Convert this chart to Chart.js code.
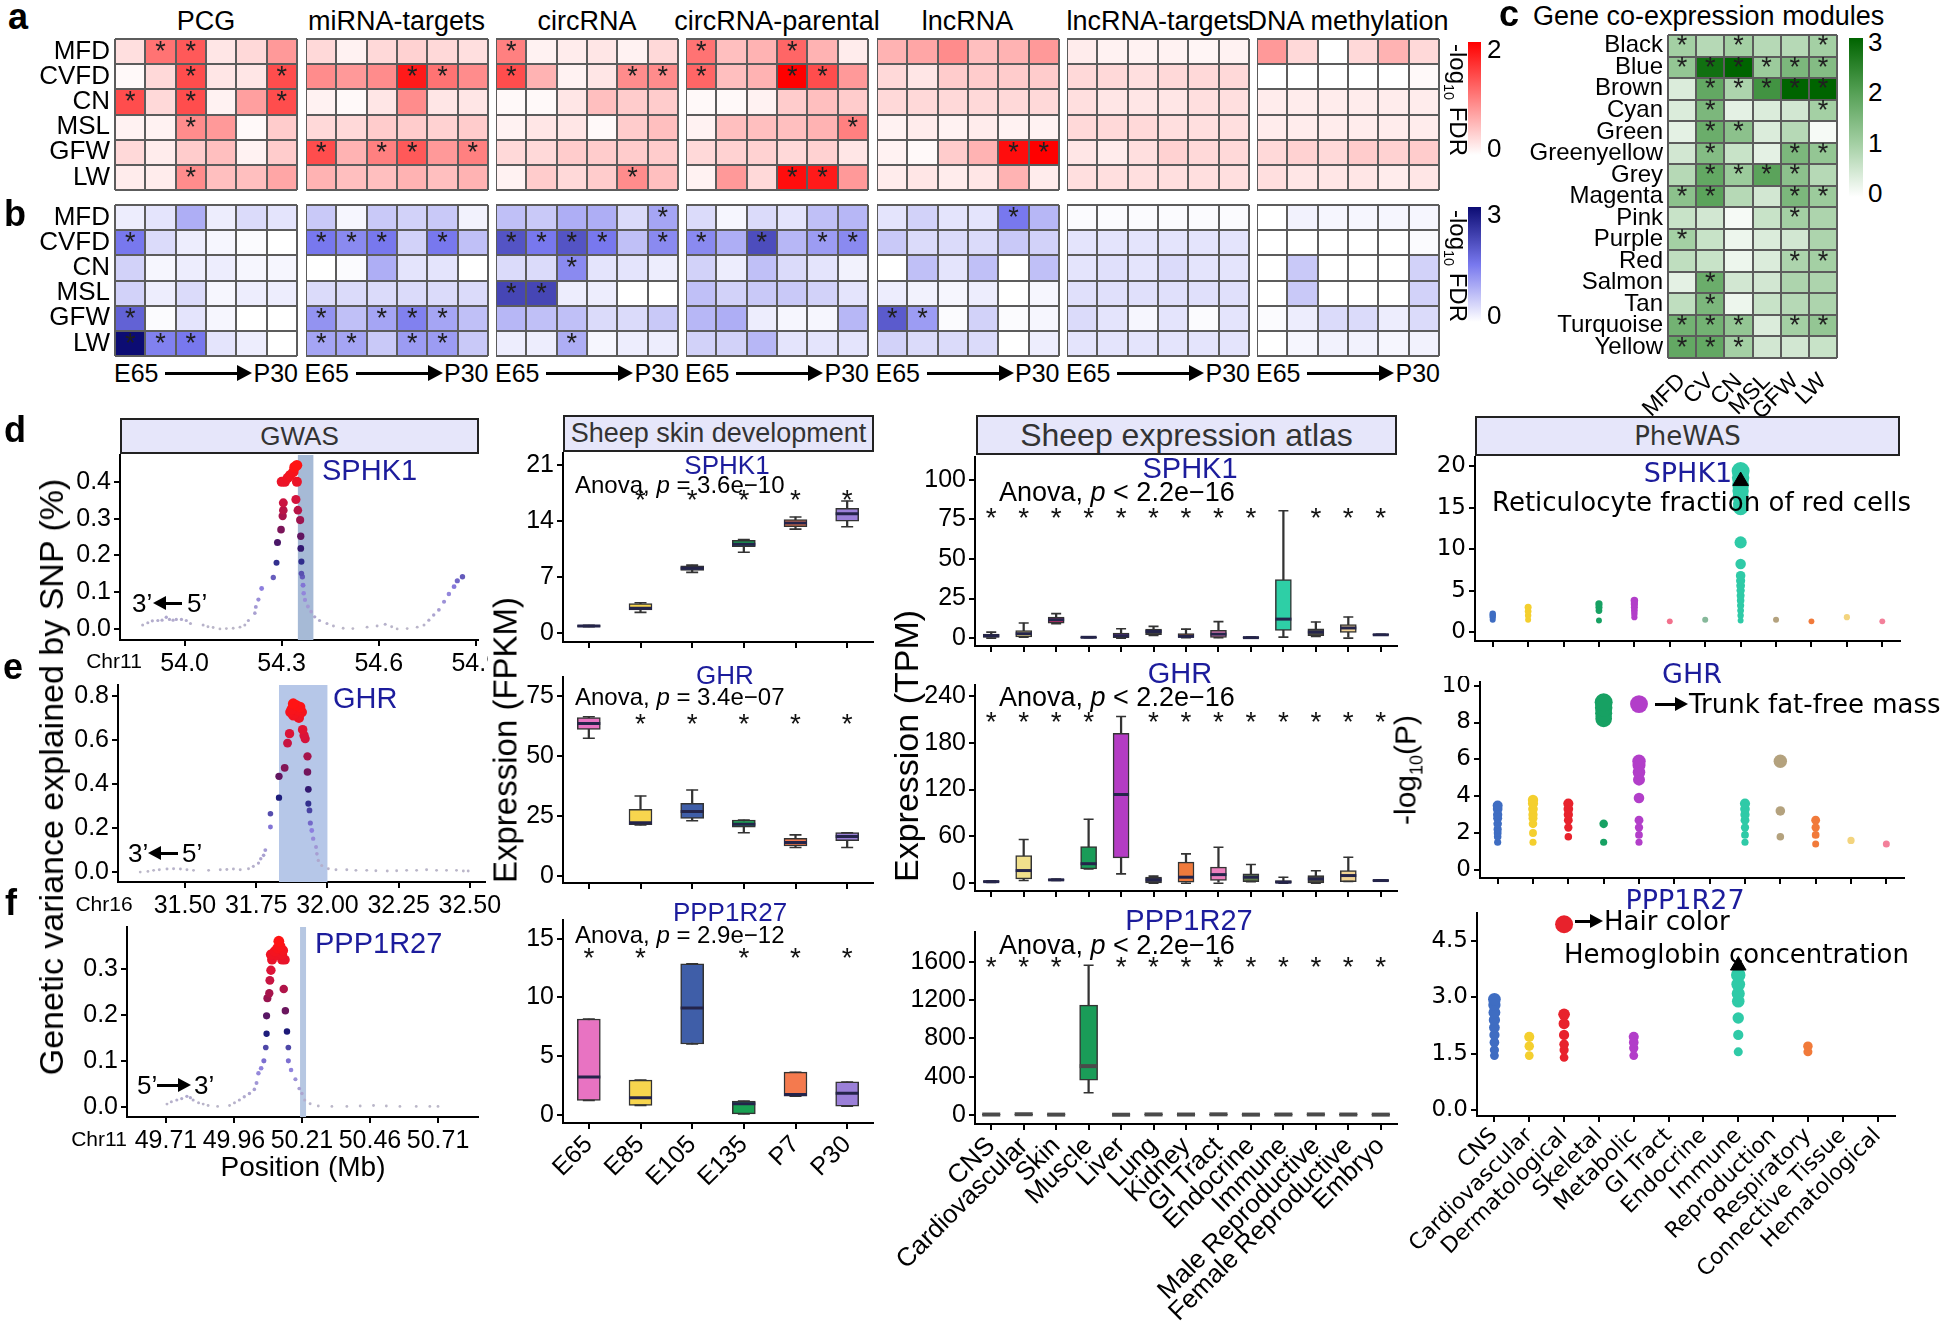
<!DOCTYPE html>
<html>
<head>
<meta charset="utf-8">
<title>Wool trait multi-omics figure</title>
<script src="https://cdn.jsdelivr.net/npm/chart.js@4.4.1/dist/chart.umd.min.js"></script>
<style>
  html, body { margin: 0; padding: 0; background: #fff; }
  body { position: relative; width: 1946px; height: 1334px; overflow: hidden; font-family: "Liberation Sans", Arial, sans-serif; }
  canvas { position: absolute; }
  .hdr { position: absolute; box-sizing: border-box; background: #e6e6fa; border: 2px solid #222; color: #333;
         display: flex; align-items: center; justify-content: center; white-space: nowrap; line-height: 1; }
</style>
</head>
<body>
<script>
// ---------- data : heatmaps a / b ----------
const heatRows = ["MFD", "CVFD", "CN", "MSL", "GFW", "LW"];
const omicsLayers = ["PCG", "miRNA-targets", "circRNA", "circRNA-parental", "lncRNA", "lncRNA-targets", "DNA methylation"];

// -log10 FDR, up-regulated (red)
const upPCG = [[0.25,1.1,1.3,0.2,0.3,0.8],[0.05,0.3,1.4,0.2,0.2,1.4],[1.4,0.3,1.4,0.1,0.75,1.4],[0.1,0.1,0.9,0.8,0.05,0.4],[0.3,0.15,0.4,0.5,0.1,0.4],[0.15,0.15,0.9,0.5,0.5,0.7]];
const upMiRNA = [[0.3,0.1,0.3,0.35,0.3,0.25],[0.9,0.8,0.9,1.8,1.1,0.9],[0.1,0.05,0.2,0.9,0.2,0.2],[0.3,0.3,0.4,0.4,0.35,0.4],[1.4,0.6,1.0,1.3,0.8,1.0],[0.6,0.5,0.5,0.6,0.5,0.6]];
const upCirc = [[1.0,0.1,0.15,0.2,0.1,0.3],[1.4,0.6,0.1,0.2,0.9,0.9],[0.05,0.05,0.2,0.5,0.4,0.4],[0.1,0.2,0.2,0.05,0.4,0.5],[0.3,0.3,0.4,0.4,0.4,0.4],[0.1,0.4,0.3,0.4,0.9,0.5]];
const upCircPar = [[1.1,0.5,0.6,1.2,0.6,0.15],[1.2,0.5,0.6,2.0,1.4,0.8],[0.05,0.05,0.1,0.4,0.5,0.4],[0.1,0.5,0.5,0.5,0.6,1.0],[0.3,0.35,0.35,0.3,0.35,0.2],[0.1,0.8,0.3,1.9,1.8,0.8]];
const upLnc = [[0.6,0.7,0.9,0.5,0.6,0.8],[0.3,0.2,0.4,0.4,0.4,0.4],[0.3,0.3,0.3,0.3,0.3,0.3],[0.1,0.15,0.1,0.15,0.1,0.1],[0.1,0.05,0.4,0.6,1.9,2.0],[0.15,0.2,0.15,0.2,0.6,0.15]];
const upLncTgt = [[0.15,0.1,0.1,0.1,0.08,0.1],[0.3,0.3,0.25,0.3,0.3,0.3],[0.25,0.2,0.2,0.2,0.25,0.25],[0.3,0.3,0.3,0.25,0.25,0.25],[0.2,0.15,0.25,0.35,0.3,0.3],[0.25,0.25,0.25,0.25,0.25,0.25]];
const upMeth = [[0.8,0.3,0.0,0.3,0.6,0.3],[0,0,0,0,0,0.05],[0.15,0.15,0.15,0.15,0.15,0.15],[0.15,0.15,0.15,0.15,0.15,0.15],[0.3,0.35,0.3,0.4,0.35,0.4],[0.25,0.2,0.2,0.2,0.15,0.2]];
const upSig = [
  ["011000","001001","101001","001000","000000","001000"],
  ["000000","000110","000000","000000","101101","000000"],
  ["100000","100011","000000","000000","000000","000010"],
  ["100100","100110","000000","000001","000000","000110"],
  ["000000","000000","000000","000000","000011","000000"],
  ["000000","000000","000000","000000","000000","000000"],
  ["000000","000000","000000","000000","000000","000000"]];

// -log10 FDR, down-regulated (blue)
const downPCG = [[0.2,0.3,0.9,0.2,0.4,0.3],[1.5,0.4,0.2,0.1,0.05,0.0],[0.5,0.1,0.2,0.2,0.1,0.1],[0.5,0.2,0.4,0.1,0.2,0.2],[1.8,0.05,0.3,0.1,0.0,0.0],[3.0,1.4,1.5,0.3,0.2,0.0]];
const downMiRNA = [[0.6,0.1,0.6,0.5,0.6,0.15],[1.5,1.3,1.5,0.5,1.5,0.7],[0.0,0.05,0.9,0.3,0.3,0.0],[0.4,0.4,0.4,0.4,0.4,0.4],[1.2,0.7,1.0,1.4,1.0,0.7],[1.0,1.0,0.6,1.1,1.1,0.6]];
const downCirc = [[0.7,0.6,0.9,0.9,0.4,1.0],[2.0,1.5,2.0,1.5,0.7,1.3],[0.4,0.4,1.3,0.3,0.3,0.2],[2.2,2.2,0.2,0.2,0.0,0.0],[0.8,0.7,0.7,0.4,0.4,0.6],[0.2,0.2,0.9,0.1,0.2,0.2]];
const downCircPar = [[0.4,0.1,0.4,0.3,0.7,0.8],[1.3,0.9,2.1,0.8,1.1,1.3],[0.5,0.2,0.7,0.4,0.3,0.15],[0.7,0.5,0.6,0.6,0.5,0.3],[0.8,0.9,0.2,0.1,0.1,0.8],[0.5,0.5,0.8,0.3,0.3,0.3]];
const downLnc = [[0.3,0.5,0.3,0.3,1.5,0.8],[0.6,0.4,0.4,0.4,0.6,0.5],[0.0,0.7,0.3,0.7,0.0,0.7],[0.2,0.15,0.1,0.2,0.0,0.1],[1.9,1.1,0.05,0.5,0.05,0.1],[0.5,0.4,0.4,0.4,0.0,0.2]];
const downLncTgt = [[0.05,0.05,0.05,0.05,0.05,0.05],[0.3,0.3,0.3,0.3,0.3,0.3],[0.3,0.35,0.3,0.4,0.3,0.3],[0.35,0.35,0.35,0.35,0.35,0.35],[0.4,0.3,0.1,0.3,0.05,0.3],[0.3,0.3,0.3,0.3,0.3,0.3]];
const downMeth = [[0.0,0.15,0.1,0.1,0.1,0.1],[0,0,0,0,0,0.05],[0.0,0.6,0.0,0.0,0.0,0.5],[0.0,0.6,0.0,0.0,0.0,0.5],[0.05,0.2,0.4,0.4,0.2,0.4],[0.0,0.1,0.15,0.15,0.1,0.15]];
const downSig = [
  ["000000","100000","000000","000000","100000","111000"],
  ["000000","111010","000000","000000","101110","110110"],
  ["000001","111101","001000","110000","000000","001000"],
  ["000000","101011","000000","000000","000000","000000"],
  ["000010","000000","000000","000000","110000","000000"],
  ["000000","000000","000000","000000","000000","000000"],
  ["000000","000000","000000","000000","000000","000000"]];

// ---------- data : c, co-expression modules ----------
const modRows = ["Black","Blue","Brown","Cyan","Green","Greenyellow","Grey","Magenta","Pink","Purple","Red","Salmon","Tan","Turquoise","Yellow"];
const modTraits = ["MFD","CV","CN","MSL","GFW","LW"];
const modCor = [[1.0,0.8,1.0,0.8,0.8,1.0],[1.2,2.8,3.0,1.1,1.5,1.4],[0.4,1.8,0.9,2.2,3.0,3.0],[0.4,1.5,0.3,0.4,0.5,1.0],[0.3,1.7,1.3,0.4,0.8,0.1],
  [0.5,1.4,0.6,0.3,1.5,1.2],[0.8,1.8,1.1,1.9,1.3,0.8],[1.3,1.9,0.8,0.5,1.5,1.1],[0.6,0.5,0.1,0.6,1.0,0.9],[1.0,0.6,0.2,0.4,0.5,0.9],
  [0.7,0.6,0.2,0.4,0.9,1.0],[0.3,1.7,0.5,0.5,0.9,0.9],[0.7,1.5,0.2,0.6,0.8,0.9],[1.6,1.6,1.2,0.4,1.0,1.2],[1.8,1.8,1.0,0.5,0.5,0.6]];
const modSig = ["101001","111111","011111","010001","011000","010011","011110","110011","000010","100000","000011","010000","010000","111011","111000"];

// ---------- data : GWAS (position Mb, variance explained %) ----------
const posSPHK1 = [53.87,53.886,53.90,53.917,53.93,53.943,53.953,53.964,53.974,53.99,54.005,54.018,54.057,54.072,54.088,54.109,54.129,54.15,54.171,54.186,54.197,54.217,54.22,54.228,54.238,54.274,54.284,54.287,54.298,54.303,54.305,54.305,54.30,54.31,54.318,54.326,54.336,54.34,54.347,54.347,54.344,54.35,54.357,54.359,54.359,54.361,54.361,54.364,54.366,54.368,54.372,54.381,54.391,54.402,54.417,54.44,54.46,54.49,54.52,54.564,54.595,54.62,54.64,54.657,54.688,54.719,54.74,54.755,54.77,54.786,54.802,54.817,54.833,54.843,54.859];
const pveSPHK1 = [0.011,0.017,0.022,0.023,0.024,0.032,0.026,0.024,0.026,0.026,0.023,0.015,0.011,0.006,0.004,0.0,0.001,0.002,0.005,0.011,0.023,0.043,0.06,0.08,0.11,0.14,0.18,0.235,0.27,0.307,0.323,0.343,0.40,0.40,0.41,0.418,0.427,0.44,0.445,0.40,0.352,0.323,0.296,0.252,0.219,0.183,0.151,0.142,0.119,0.097,0.079,0.061,0.047,0.033,0.023,0.015,0.008,0.002,0.001,0.005,0.008,0.013,0.006,0.0,0.001,0.005,0.011,0.024,0.038,0.052,0.074,0.095,0.115,0.131,0.142];
const posGHR = [31.343,31.37,31.39,31.41,31.437,31.46,31.484,31.507,31.53,31.583,31.624,31.647,31.67,31.694,31.723,31.74,31.758,31.766,31.776,31.782,31.80,31.80,31.83,31.83,31.85,31.86,31.867,31.87,31.88,31.89,31.904,31.91,31.898,31.88,31.913,31.918,31.922,31.93,31.93,31.933,31.933,31.937,31.94,31.945,31.95,31.96,31.963,31.968,31.98,32.003,32.03,32.068,32.10,32.138,32.17,32.21,32.243,32.278,32.313,32.348,32.383,32.418,32.453,32.477,32.494,31.875,31.885,31.895,31.90];
const pveGHR = [0,0.003,0.008,0.011,0.014,0.015,0.014,0.011,0.008,0.008,0.011,0.012,0.014,0.011,0.015,0.026,0.041,0.061,0.076,0.10,0.205,0.265,0.338,0.435,0.474,0.586,0.629,0.727,0.765,0.758,0.75,0.727,0.705,0.712,0.647,0.621,0.606,0.526,0.455,0.376,0.311,0.28,0.223,0.189,0.152,0.114,0.083,0.053,0.03,0.015,0.011,0.011,0.008,0.008,0.006,0.005,0.006,0.008,0.008,0.011,0.008,0.008,0.008,0.005,0.005,0.74,0.72,0.735,0.70];
const posPPP1R27 = [49.714,49.73,49.75,49.768,49.787,49.80,49.81,49.83,49.847,49.865,49.90,49.944,49.962,49.98,49.998,50.017,50.035,50.043,50.05,50.06,50.07,50.077,50.08,50.08,50.083,50.09,50.092,50.096,50.096,50.11,50.125,50.13,50.137,50.147,50.137,50.143,50.149,50.155,50.16,50.16,50.17,50.186,50.20,50.21,50.22,50.24,50.27,50.32,50.375,50.424,50.473,50.52,50.57,50.63,50.68,50.71,50.115,50.12,50.14,50.10];
const pvePPP1R27 = [0.006,0.011,0.015,0.018,0.023,0.02,0.015,0.009,0.006,0.003,0.001,0.003,0.009,0.015,0.022,0.029,0.038,0.052,0.073,0.084,0.10,0.129,0.159,0.198,0.236,0.247,0.275,0.297,0.331,0.338,0.36,0.349,0.331,0.32,0.32,0.256,0.209,0.164,0.129,0.10,0.08,0.06,0.04,0.029,0.015,0.007,0.002,0.001,0.001,0.002,0.003,0.002,0.001,0.001,0.001,0.001,0.33,0.345,0.34,0.32];

// ---------- data : skin development (FPKM box stats) ----------
const skinStages = ["E65","E85","E105","E135","P7","P30"];
const skinSPHK1 = { lo:[0.8,2.6,7.6,10.1,13.0,13.3], q1:[0.85,2.9,7.85,10.8,13.3,14.0], med:[0.9,3.1,8.1,11.1,13.75,14.9], q3:[0.95,3.7,8.4,11.6,14.2,15.6], hi:[1.0,3.8,8.5,11.7,14.5,16.5] };
const skinGHR = { lo:[57.4,21.2,23,18,11.8,11.8], q1:[61.1,21.3,24,20.3,12.5,14.7], med:[63.6,22.2,26.8,21.5,13.9,16.4], q3:[66.1,27.8,30.3,23.3,15.7,18], hi:[66.4,33.3,35.8,23.3,17.1,18] };
const skinPPP1R27 = { lo:[1.22,0.8,6.03,0.08,1.59,0.74], q1:[1.22,0.8,6.03,0.08,1.59,0.74], med:[3.23,1.45,9.1,0.95,1.73,1.84], q3:[8.16,2.95,12.86,1.16,3.63,2.8], hi:[8.16,2.95,12.86,1.16,3.63,2.8] };
const skinStarSPHK1 = [null,17.3,17.3,17.3,17.3,17.3];
const skinStarGHR = [null,65.7,65.7,65.7,65.7,65.7];
const skinStarPPP1R27 = [13.8,13.8,null,13.8,13.8,13.8];
const skinColors = ["#e873c2","#f7d54e","#3f5ea8","#19a052","#f47a4e","#9b80d8"];

// ---------- data : expression atlas (TPM box stats) ----------
const tissues = ["CNS","Cardiovascular","Skin","Muscle","Liver","Lung","Kidney","GI Tract","Endocrine","Immune","Male Reproductive","Female Reproductive","Embryo"];
const atlasSPHK1 = { lo:[0,0.5,9.1,0.2,0,1.7,0.3,0.2,0.1,0.6,1.0,0,1.8], q1:[0.5,0.8,9.5,0.3,0.3,2.1,0.5,0.5,0.2,4.9,1.5,3.6,1.9],
  med:[1.5,2.8,11.6,0.5,1.5,4.2,1.1,2.5,0.3,12,3.8,6.4,2.1], q3:[2.5,4.7,13.3,0.7,3.2,5.7,2.8,4.9,0.5,37,5.9,8.5,2.3], hi:[3.8,9.5,15.5,0.8,5.9,7.4,5.7,10.4,0.6,80.5,10.2,13.3,2.4] };
const atlasGHR = { lo:[1,3.4,3.5,18.4,12,0,0,0,2,0,0,2.1,2.5], q1:[1.2,5.6,3.7,18.4,32.5,0.5,1.3,3.4,2,0.3,0.5,2.1,2.6],
  med:[2,16.2,4.3,25,113.7,4.3,7.7,11,7.7,1.3,5.5,9.8,3.4], q3:[3,35.5,5,47,192,7.7,27,20.5,12,3.4,9.8,16.2,4.2], hi:[3.2,56,5.2,82,213.7,9,37.6,46,24,7.7,16,33.3,4.4] };
const atlasPPP1R27 = { lo:[2,3,2,233,1,2,2,3,2,2,3,2,1], q1:[3,4,3,365,2,3,3,4,2,3,4,3,2],
  med:[5,8,4,511,3,6,5,7,4,5,6,5,4], q3:[8,11,6,1148,5,9,8,10,6,8,9,8,6], hi:[10,13,7,1565,6,11,10,12,7,10,11,10,7] };
const atlasStarSPHK1 = [79,79,79,79,79,79,79,79,79,null,79,79,79];
const atlasStarGHR = [213,213,213,213,null,213,213,213,213,213,213,213,213];
const atlasStarPPP1R27 = [1600,1600,1600,null,1600,1600,1600,1600,1600,1600,1600,1600,1600];
const tissueColors = ["#444444","#f1e08c","#c8306a","#1a9c58","#b43cc4","#444444","#f07a3c","#ee80bf","#5f7a4a","#2ecfa6","#525243","#f2d494","#444444"];

// ---------- data : PheWAS (-log10 P per trait category) ----------
const pheCats = ["CNS","Cardiovascular","Dermatological","Skeletal","Metabolic","GI Tract","Endocrine","Immune","Reproduction","Respiratory","Connective Tissue","Hematological"];
const pheColors = ["#3f6dc2","#f4cf2e","#e8222c","#17a163","#b23ec9","#f2708c","#86b89a","#2fcaa7","#b4a27e","#f17a3a","#f3d47e","#f3809a"];
const pheSPHK1 = [[1.5,1.8,2.0,2.2],[1.5,2.0,2.5,3.0],[],[1.4,2.6,3.0,3.4],[1.8,2.2,2.6,3.0,3.4,3.8],[1.3],[1.5],
  [1.4,2.0,2.6,3.2,3.8,4.4,5.0,5.6,6.2,6.8,8.2,10.8,15.0,15.5,16.3,17.0,17.8,18.6,19.4],[1.5],[1.3],[1.8],[1.3]];
const pheGHR = [[1.5,1.8,2.0,2.2,2.5,2.8,3.0,3.3,3.5],[1.5,2.0,2.5,2.8,3.0,3.3,3.6,3.8],[1.8,2.3,2.7,3.0,3.3,3.6],[1.5,2.5,8.2,8.5,8.8,9.1],
  [1.5,1.9,2.3,2.7,3.9,4.9,5.3,5.7,5.9,9.0],[],[],[1.5,1.9,2.3,2.7,3.0,3.3,3.6],[1.8,3.2,5.9],[1.4,1.9,2.3,2.7],[1.6],[1.4]];
const phePPP1R27 = [[1.45,1.6,1.8,2.0,2.2,2.4,2.6,2.8,2.95],[1.45,1.7,1.95],[1.4,1.6,1.75,2.0,2.3,2.55,4.95],[],[1.45,1.65,1.8,1.95],[],[],
  [1.55,2.0,2.45,2.9,3.1,3.35,3.6],[],[1.55,1.7],[],[]];
const pheMarkSPHK1 = [18.2];
const pheMarkPPP1R27 = [3.85];

// ---------- helpers ----------
Chart.defaults.font.family = "'Liberation Sans', Arial, sans-serif";
Chart.defaults.color = "#000";
Chart.defaults.animation = false;
Chart.defaults.events = [];
Chart.defaults.plugins.legend.display = false;
Chart.defaults.plugins.tooltip.enabled = false;

// fixed axis sizes so that every plot area lands where the reference has it
const fitY = w => s => { s.width = w; s.paddingTop = 0; s.paddingBottom = 0; };
const fitX = h => s => { s.height = h; s.paddingLeft = 0; s.paddingRight = 0; };

function mkCanvas(left, top, w, h) {
  const c = document.createElement("canvas");
  c.width = w; c.height = h;
  c.style.left = left + "px"; c.style.top = top + "px";
  c.style.width = w + "px"; c.style.height = h + "px";
  document.body.appendChild(c);
  return c;
}

function txt(html, x, y, o = {}) {
  const d = document.createElement("div");
  d.innerHTML = html;
  const ax = o.a === "l" ? "0" : o.a === "r" ? "-100%" : "-50%";
  d.style.cssText = `position:absolute;left:${x}px;top:${y}px;white-space:nowrap;line-height:1;` +
    `font-size:${o.s || 24}px;font-family:${o.f || "'Liberation Sans', Arial, sans-serif"};color:${o.c || "#000"};` +
    `font-weight:${o.b ? "bold" : "normal"};transform:translate(${ax},-50%)${o.rot ? ` rotate(${o.rot}deg)` : ""};z-index:5`;
  document.body.appendChild(d);
}

function arrow(x1, x2, y, head = 13, half = 7) {
  const right = x2 > x1;
  const a = right ? x1 : x2 + head, b = right ? x2 - head : x1;
  const l = document.createElement("div");
  l.style.cssText = `position:absolute;left:${a}px;top:${y - 1.5}px;width:${b - a}px;height:3px;background:#000;z-index:5`;
  const h = document.createElement("div");
  h.style.cssText = `position:absolute;left:${right ? x2 - head : x2}px;top:${y - half}px;width:0;height:0;` +
    `border-top:${half}px solid transparent;border-bottom:${half}px solid transparent;` +
    `${right ? "border-left" : "border-right"}:${head}px solid #000;z-index:5`;
  document.body.append(l, h);
}

function header(label, l, t, r, b, size, font) {
  const d = document.createElement("div");
  d.className = "hdr";
  d.textContent = label;
  d.style.cssText += `left:${l}px;top:${t}px;width:${r - l}px;height:${b - t}px;font-size:${size}px;` +
    (font ? `font-family:${font};` : "");
  document.body.appendChild(d);
}

function colorbar(l, t, w, h, grad) {
  const d = document.createElement("div");
  d.style.cssText = `position:absolute;left:${l}px;top:${t}px;width:${w}px;height:${h}px;background:linear-gradient(to top, ${grad})`;
  document.body.appendChild(d);
}

function lerpStops(stops, t) {
  t = Math.max(0, Math.min(1, t));
  for (let i = 1; i < stops.length; i++) {
    if (t <= stops[i][0]) {
      const [t0, c0] = stops[i - 1], [t1, c1] = stops[i];
      const f = (t - t0) / (t1 - t0);
      return `rgb(${c0.map((v, k) => Math.round(v + (c1[k] - v) * f)).join(",")})`;
    }
  }
  return `rgb(${stops[stops.length - 1][1].join(",")})`;
}
const redScale = v => lerpStops([[0, [255, 255, 255]], [1, [255, 0, 0]]], v / 2);
const blueScale = v => lerpStops([[0, [255, 255, 255]], [0.5, [120, 120, 238]], [1, [12, 12, 115]]], v / 3);
const greenScale = v => lerpStops([[0, [255, 255, 255]], [0.33, [165, 208, 165]], [0.67, [82, 158, 82]], [1, [0, 100, 0]]], v / 3);
const snpColor = r => lerpStops([[0, [188, 184, 200]], [0.25, [140, 125, 222]], [0.45, [25, 25, 120]], [0.65, [150, 20, 80]], [0.8, [215, 20, 60]], [1, [255, 20, 20]]], r);

const axGrid = { display: true, drawOnChartArea: false, drawTicks: true, tickLength: 6, color: "#000", lineWidth: 2, offset: false };
const axBorder = { display: true, color: "#000", width: 2 };

// ---------- heatmap (stacked horizontal bars, one dataset per column) ----------
function heatmap(area, rows, vals, sig, colorFn, o = {}) {
  const labelW = o.labelW || 0, xH = o.xLabels ? o.xH : 0, pad = 2;
  const c = mkCanvas(area.l - labelW, area.t - pad, area.r - area.l + labelW + pad, area.b - area.t + 2 * pad + xH);
  const nCol = vals[0].length;
  const datasets = [];
  for (let j = 0; j < nCol; j++) {
    datasets.push({ data: rows.map(() => 1), backgroundColor: vals.map(r => colorFn(r[j])),
      borderWidth: 0, barPercentage: 1, categoryPercentage: 1 });
  }
  const scales = {
    x: { type: "linear", stacked: true, min: 0, max: nCol, ticks: { display: false, stepSize: 1 },
      grid: { z: 1, color: "#5c5c5c", lineWidth: 2, drawTicks: false }, border: { display: false },
      afterFit: fitX(0) },
    y: { type: "category", stacked: true, offset: true,
      grid: { z: 1, offset: true, color: "#5c5c5c", lineWidth: 2, drawTicks: false }, border: { display: false },
      ticks: { display: labelW > 0, autoSkip: false, color: "#000", font: { size: o.fs || 26 }, padding: 5 },
      afterFit: fitY(labelW) }
  };
  if (o.xLabels) {
    scales.xl = { type: "category", position: "bottom", labels: o.xLabels, offset: true,
      grid: { display: false }, border: { display: false },
      ticks: { minRotation: 45, maxRotation: 45, autoSkip: false, color: "#000", font: { size: 23 }, padding: 2 },
      afterFit: fitX(xH) };
  }
  const stars = {
    id: "heatStars",
    afterDraw(chart) {
      const ctx = chart.ctx, x = chart.scales.x, y = chart.scales.y;
      ctx.save();
      ctx.fillStyle = "#202020";
      ctx.font = "27px 'Liberation Sans', Arial";
      ctx.textAlign = "center"; ctx.textBaseline = "middle";
      sig.forEach((row, i) => {
        for (let j = 0; j < row.length; j++) {
          if (row[j] === "1") ctx.fillText("*", x.getPixelForValue(j + 0.5), y.getPixelForValue(i) + 1);
        }
      });
      ctx.restore();
    }
  };
  new Chart(c, {
    type: "bar",
    data: { labels: rows, datasets },
    options: { indexAxis: "y", responsive: false,
      layout: { autoPadding: false, padding: { top: pad, right: pad, bottom: pad, left: 0 } }, scales },
    plugins: [stars]
  });
}

// ---------- GWAS scatter ----------
function gwasChart(area, pos, pve, o) {
  const yW = 50, xH = 36, padT = 4;
  const c = mkCanvas(area.l - yW, area.t - padT, area.r - area.l + yW + o.padR, area.b - area.t + padT + xH);
  const vmax = Math.max(...pve);
  const idx = pos.map((_, i) => i).sort((a, b) => pve[a] - pve[b]);
  const band = {
    id: "band",
    beforeDatasetsDraw(chart) {
      const { ctx, chartArea: ca } = chart, x = chart.scales.x;
      const x0 = x.getPixelForValue(o.band[0]), x1 = x.getPixelForValue(o.band[1]);
      ctx.save(); ctx.fillStyle = o.bandColor; ctx.fillRect(x0, ca.top, x1 - x0, ca.bottom - ca.top); ctx.restore();
    }
  };
  new Chart(c, {
    type: "scatter",
    data: { datasets: [{ data: idx.map(i => ({ x: pos[i], y: pve[i] })),
      pointBackgroundColor: idx.map(i => snpColor(pve[i] / vmax)),
      pointRadius: idx.map(i => 1.4 + 4 * pve[i] / vmax), pointBorderWidth: 0 }] },
    options: { responsive: false,
      layout: { autoPadding: false, padding: { top: padT, right: o.padR, left: 0, bottom: 0 } },
      scales: {
        x: { type: "linear", min: o.xmin, max: o.xmax, grid: axGrid, border: axBorder,
          afterBuildTicks: s => { s.ticks = o.xt.map(v => ({ value: v })); },
          ticks: { color: "#000", font: { size: 25 }, padding: 3, callback: v => v.toFixed(o.xd) },
          afterFit: fitX(xH) },
        y: { min: o.ymin, max: o.ymax, grid: axGrid, border: axBorder,
          afterBuildTicks: s => { s.ticks = o.yt.map(v => ({ value: v })); },
          ticks: { color: "#000", font: { size: 25 }, padding: 3, callback: v => v.toFixed(1) },
          afterFit: fitY(yW) }
      } },
    plugins: [band]
  });
}

// ---------- box plots (floating bars + line-style points) ----------
function boxChart(area, cats, st, colors, starY, o) {
  const padT = 6, padR = 6, padL = o.padL || 0;
  const c = mkCanvas(area.l - o.yW - padL, area.t - padT, area.r - area.l + o.yW + padR + padL, area.b - area.t + padT + o.xH);
  const starPlugin = {
    id: "starMarks",
    afterDatasetsDraw(chart) {
      const ctx = chart.ctx, x = chart.scales.x, y = chart.scales.y;
      ctx.save(); ctx.fillStyle = "#111"; ctx.font = "28px 'Liberation Sans', Arial";
      ctx.textAlign = "center"; ctx.textBaseline = "middle";
      starY.forEach((v, i) => { if (v != null) ctx.fillText("*", x.getPixelForValue(i), y.getPixelForValue(v) + 28 * 0.23); });
      ctx.restore();
    }
  };
  new Chart(c, {
    type: "bar",
    data: { labels: cats, datasets: [
      { type: "bar", data: cats.map((_, i) => [st.lo[i], st.hi[i]]), backgroundColor: "#333", barThickness: 1.6, grouped: false, order: 4 },
      { type: "bar", data: cats.map((_, i) => [st.q1[i], st.q3[i]]), backgroundColor: colors, borderColor: "#333",
        borderWidth: 1.5, borderSkipped: false, barThickness: o.boxW, grouped: false, order: 3 },
      { type: "line", data: st.lo, showLine: false, pointStyle: "line", pointRadius: o.capW / 2, pointBorderWidth: 1.6, pointBorderColor: "#333", order: 2 },
      { type: "line", data: st.hi, showLine: false, pointStyle: "line", pointRadius: o.capW / 2, pointBorderWidth: 1.6, pointBorderColor: "#333", order: 2 },
      { type: "line", data: st.med, showLine: false, pointStyle: "line", pointRadius: o.boxW / 2, pointBorderWidth: o.medW || 3, pointBorderColor: o.medC || "#24244a", order: 1 }
    ] },
    options: { responsive: false,
      layout: { autoPadding: false, padding: { top: padT, right: padR, left: padL, bottom: 0 } },
      scales: {
        x: { offset: true, grid: axGrid, border: axBorder,
          ticks: { display: !!o.showX, minRotation: 45, maxRotation: 45, autoSkip: false, color: "#000", font: { size: o.xfs || 25 }, padding: 1 },
          afterFit: fitX(o.xH) },
        y: { min: o.min, max: o.max, grid: axGrid, border: axBorder,
          afterBuildTicks: s => { s.ticks = o.ticks.map(v => ({ value: v })); },
          ticks: { color: "#000", font: { size: 25 }, padding: 3, callback: v => String(v) },
          afterFit: fitY(o.yW) }
      } },
    plugins: [starPlugin]
  });
}

// ---------- PheWAS dot plot ----------
function pheChart(area, vals, mark, o) {
  const padT = 6, padR = 6, padL = o.padL || 0;
  const c = mkCanvas(area.l - o.yW - padL, area.t - padT, area.r - area.l + o.yW + padR + padL, area.b - area.t + padT + o.xH);
  const vmax = Math.max(...vals.flat());
  const pts = [], cols = [], rad = [];
  vals.forEach((arr, i) => arr.forEach(v => {
    pts.push({ x: pheCats[i], y: v }); cols.push(pheColors[i]); rad.push(2.5 + 6.5 * v / vmax);
  }));
  const datasets = [{ data: pts, showLine: false, pointBackgroundColor: cols, pointBorderWidth: 0, pointRadius: rad, order: 2 }];
  if (mark) datasets.push({ data: mark.map(v => ({ x: "Immune", y: v })), showLine: false, pointStyle: "triangle",
    pointRadius: 9, pointBackgroundColor: "#000", pointBorderColor: "#000", order: 1 });
  new Chart(c, {
    type: "line",
    data: { labels: pheCats, datasets },
    options: { responsive: false,
      layout: { autoPadding: false, padding: { top: padT, right: padR, left: padL, bottom: 0 } },
      scales: {
        x: { offset: true, grid: axGrid, border: axBorder,
          ticks: { display: !!o.showX, minRotation: 45, maxRotation: 45, autoSkip: false, color: "#000",
            font: { size: 22, family: "'DejaVu Sans', sans-serif" }, padding: 1 },
          afterFit: fitX(o.xH) },
        y: { min: o.min, max: o.max, grid: axGrid, border: axBorder,
          afterBuildTicks: s => { s.ticks = o.ticks.map(v => ({ value: v })); },
          ticks: { color: "#000", font: { size: 23, family: "'DejaVu Sans', sans-serif" }, padding: 3,
            callback: v => o.dec ? v.toFixed(o.dec) : String(v) },
          afterFit: fitY(o.yW) }
      } }
  });
}

// ================= panel a / b =================
const blockLeft = [115, 305.5, 496, 686, 876.5, 1067, 1257];
const blockW = 182;
const upVals = [upPCG, upMiRNA, upCirc, upCircPar, upLnc, upLncTgt, upMeth];
const downVals = [downPCG, downMiRNA, downCirc, downCircPar, downLnc, downLncTgt, downMeth];
blockLeft.forEach((l, i) => {
  heatmap({ l, t: 39, r: l + blockW, b: 190 }, heatRows, upVals[i], upSig[i], redScale, { labelW: i === 0 ? 115 : 0 });
  heatmap({ l, t: 205, r: l + blockW, b: 356 }, heatRows, downVals[i], downSig[i], blueScale, { labelW: i === 0 ? 115 : 0 });
  txt(omicsLayers[i], l + blockW / 2, 21, { s: 27 });
  txt("E65", l - 1, 373, { a: "l", s: 25 });
  txt("P30", l + blockW + 1, 373, { a: "r", s: 25 });
  arrow(l + 50, l + 137, 373, 15, 8);
});

// colour bars a/b
colorbar(1468, 42, 13, 113, "#fff, #ff0000");
txt("2", 1487, 49, { a: "l", s: 26 });
txt("0", 1487, 148, { a: "l", s: 26 });
txt("-log<sub style='font-size:0.6em'>10</sub> FDR", 1456, 100, { s: 24, rot: 90 });
colorbar(1468, 207, 13, 115, "#fff, #7878ee 50%, #0c0c73");
txt("3", 1487, 214, { a: "l", s: 26 });
txt("0", 1487, 315, { a: "l", s: 26 });
txt("-log<sub style='font-size:0.6em'>10</sub> FDR", 1456, 266, { s: 24, rot: 90 });

// ================= panel c =================
heatmap({ l: 1668, t: 35, r: 1837, b: 358 }, modRows, modCor, modSig, greenScale,
  { labelW: 168, fs: 24, xLabels: modTraits, xH: 62 });
colorbar(1849, 38, 14, 159, "#fff, #a5d0a5 33%, #529e52 67%, #006400");
txt("3", 1868, 42, { a: "l", s: 26 });
txt("2", 1868, 92, { a: "l", s: 26 });
txt("1", 1868, 143, { a: "l", s: 26 });
txt("0", 1868, 193, { a: "l", s: 26 });
txt("Gene co-expression modules", 1533, 16, { a: "l", s: 27 });

// ================= GWAS column =================
header("GWAS", 120, 418, 479, 454, 26);
gwasChart({ l: 120, t: 455, r: 478, b: 640 }, posSPHK1, pveSPHK1,
  { xmin: 53.8, xmax: 54.907, xt: [54.0, 54.3, 54.6, 54.9], xd: 1, ymin: -0.03, ymax: 0.473, yt: [0, 0.1, 0.2, 0.3, 0.4],
    band: [54.35, 54.398], bandColor: "#a6bad6", padR: 10 });
gwasChart({ l: 118, t: 685, r: 485, b: 882 }, posGHR, pveGHR,
  { xmin: 31.265, xmax: 32.553, xt: [31.5, 31.75, 32.0, 32.25, 32.5], xd: 2, ymin: -0.045, ymax: 0.85, yt: [0, 0.2, 0.4, 0.6, 0.8],
    band: [31.83, 32.0], bandColor: "#b6c7e8", padR: 30 });
gwasChart({ l: 127, t: 927, r: 478, b: 1117 }, posPPP1R27, pvePPP1R27,
  { xmin: 49.567, xmax: 50.857, xt: [49.71, 49.96, 50.21, 50.46, 50.71], xd: 2, ymin: -0.022, ymax: 0.391, yt: [0, 0.1, 0.2, 0.3],
    band: [50.203, 50.225], bandColor: "#b6c7e2", padR: 30 });
txt("SPHK1", 322, 470, { a: "l", s: 29, c: "#1c1c9c" });
txt("GHR", 333, 698, { a: "l", s: 29, c: "#1c1c9c" });
txt("PPP1R27", 315, 943, { a: "l", s: 29, c: "#1c1c9c" });
txt("Chr11", 114, 660, { s: 21 });
txt("Chr16", 104, 903, { s: 21 });
txt("Chr11", 99, 1138, { s: 21 });
txt("3’", 132, 603, { a: "l", s: 26 }); arrow(182, 153, 603); txt("5’", 187, 603, { a: "l", s: 26 });
txt("3’", 128, 853, { a: "l", s: 26 }); arrow(178, 148, 853); txt("5’", 182, 853, { a: "l", s: 26 });
txt("5’", 137, 1085, { a: "l", s: 26 }); arrow(157, 191, 1085); txt("3’", 194, 1085, { a: "l", s: 26 });
txt("Genetic variance explained by SNP (%)", 51, 777, { s: 34, rot: -90 });
txt("Position (Mb)", 303, 1167, { s: 28 });

// ================= skin development =================
header("Sheep skin development", 563, 415, 874, 452, 27);
boxChart({ l: 563, t: 453, r: 873, b: 642 }, skinStages, skinSPHK1, skinColors, skinStarSPHK1,
  { yW: 45, xH: 10, min: -1.1, max: 22.5, ticks: [0, 7, 14, 21], boxW: 23, capW: 12 });
boxChart({ l: 563, t: 677, r: 873, b: 883 }, skinStages, skinGHR, skinColors, skinStarGHR,
  { yW: 45, xH: 10, min: -3, max: 83, ticks: [0, 25, 50, 75], boxW: 23, capW: 12 });
boxChart({ l: 563, t: 920, r: 873, b: 1123 }, skinStages, skinPPP1R27, skinColors, skinStarPPP1R27,
  { yW: 45, xH: 75, min: -0.7, max: 16.6, ticks: [0, 5, 10, 15], boxW: 23, capW: 12, showX: true, xfs: 25 });
txt("SPHK1", 727, 465, { s: 26, c: "#1c1c9c" });
txt("Anova, <i>p</i> = 3.6e−10", 575, 485, { a: "l", s: 24 });
txt("GHR", 725, 675, { s: 26, c: "#1c1c9c" });
txt("Anova, <i>p</i> = 3.4e−07", 575, 697, { a: "l", s: 24 });
txt("PPP1R27", 730, 912, { s: 26, c: "#1c1c9c" });
txt("Anova, <i>p</i> = 2.9e−12", 575, 935, { a: "l", s: 24 });
txt("Expression (FPKM)", 505, 740, { s: 33, rot: -90 });

// ================= expression atlas =================
header("Sheep expression atlas", 976, 415, 1397, 455, 32);
boxChart({ l: 975, t: 457, r: 1397, b: 646 }, tissues, atlasSPHK1, tissueColors, atlasStarSPHK1,
  { yW: 60, xH: 10, min: -5, max: 114.5, ticks: [0, 25, 50, 75, 100], boxW: 16, capW: 10 });
boxChart({ l: 975, t: 685, r: 1397, b: 891 }, tissues, atlasGHR, tissueColors, atlasStarGHR,
  { yW: 60, xH: 10, min: -10, max: 254, ticks: [0, 60, 120, 180, 240], boxW: 16, capW: 10 });
boxChart({ l: 975, t: 932, r: 1397, b: 1124 }, tissues, atlasPPP1R27, tissueColors, atlasStarPPP1R27,
  { yW: 70, padL: 50, xH: 210, min: -94, max: 1913, ticks: [0, 400, 800, 1200, 1600], boxW: 18, capW: 10, showX: true, xfs: 26,
    medW: 4, medC: "#4a4a4a" });
txt("SPHK1", 1190, 468, { s: 29, c: "#1c1c9c" });
txt("Anova, <i>p</i> &lt; 2.2e−16", 999, 492, { a: "l", s: 27 });
txt("GHR", 1180, 673, { s: 29, c: "#1c1c9c" });
txt("Anova, <i>p</i> &lt; 2.2e−16", 999, 697, { a: "l", s: 27 });
txt("PPP1R27", 1189, 920, { s: 29, c: "#1c1c9c" });
txt("Anova, <i>p</i> &lt; 2.2e−16", 999, 945, { a: "l", s: 27 });
txt("Expression (TPM)", 906, 746, { s: 34, rot: -90 });

// ================= PheWAS =================
const dv = "'DejaVu Sans', sans-serif";
header("PheWAS", 1475, 416, 1900, 456, 26, dv);
pheChart({ l: 1475, t: 457, r: 1900, b: 641 }, pheSPHK1, pheMarkSPHK1,
  { yW: 50, xH: 10, min: -1.07, max: 21.1, ticks: [0, 5, 10, 15, 20] });
pheChart({ l: 1480, t: 682, r: 1904, b: 878 }, pheGHR, null,
  { yW: 55, xH: 10, min: -0.44, max: 10.2, ticks: [0, 2, 4, 6, 8, 10] });
pheChart({ l: 1477, t: 913, r: 1895, b: 1116 }, phePPP1R27, pheMarkPPP1R27,
  { yW: 55, padL: 40, xH: 215, min: -0.16, max: 5.25, ticks: [0, 1.5, 3, 4.5], dec: 1, showX: true });
txt("SPHK1", 1688, 472, { s: 27, c: "#1c1c9c", f: dv });
txt("Reticulocyte fraction of red cells", 1492, 502, { a: "l", s: 26, f: dv });
txt("GHR", 1692, 673, { s: 27, c: "#1c1c9c", f: dv });
arrow(1655, 1688, 704); txt("Trunk fat-free mass", 1689, 704, { a: "l", s: 26, f: dv });
txt("PPP1R27", 1685, 899, { s: 27, c: "#1c1c9c", f: dv });
arrow(1575, 1603, 921); txt("Hair color", 1604, 921, { a: "l", s: 26, f: dv });
txt("Hemoglobin concentration", 1564, 954, { a: "l", s: 26, f: dv });
txt("-log<sub style='font-size:0.6em'>10</sub>(P)", 1408, 770, { s: 30, rot: -90 });

// ================= panel letters =================
txt("a", 18, 17, { s: 36, b: true });
txt("b", 15, 214, { s: 36, b: true });
txt("c", 1509, 14, { s: 36, b: true });
txt("d", 15, 430, { s: 36, b: true });
txt("e", 13, 667, { s: 36, b: true });
txt("f", 11, 903, { s: 36, b: true });
</script>
</body>
</html>
